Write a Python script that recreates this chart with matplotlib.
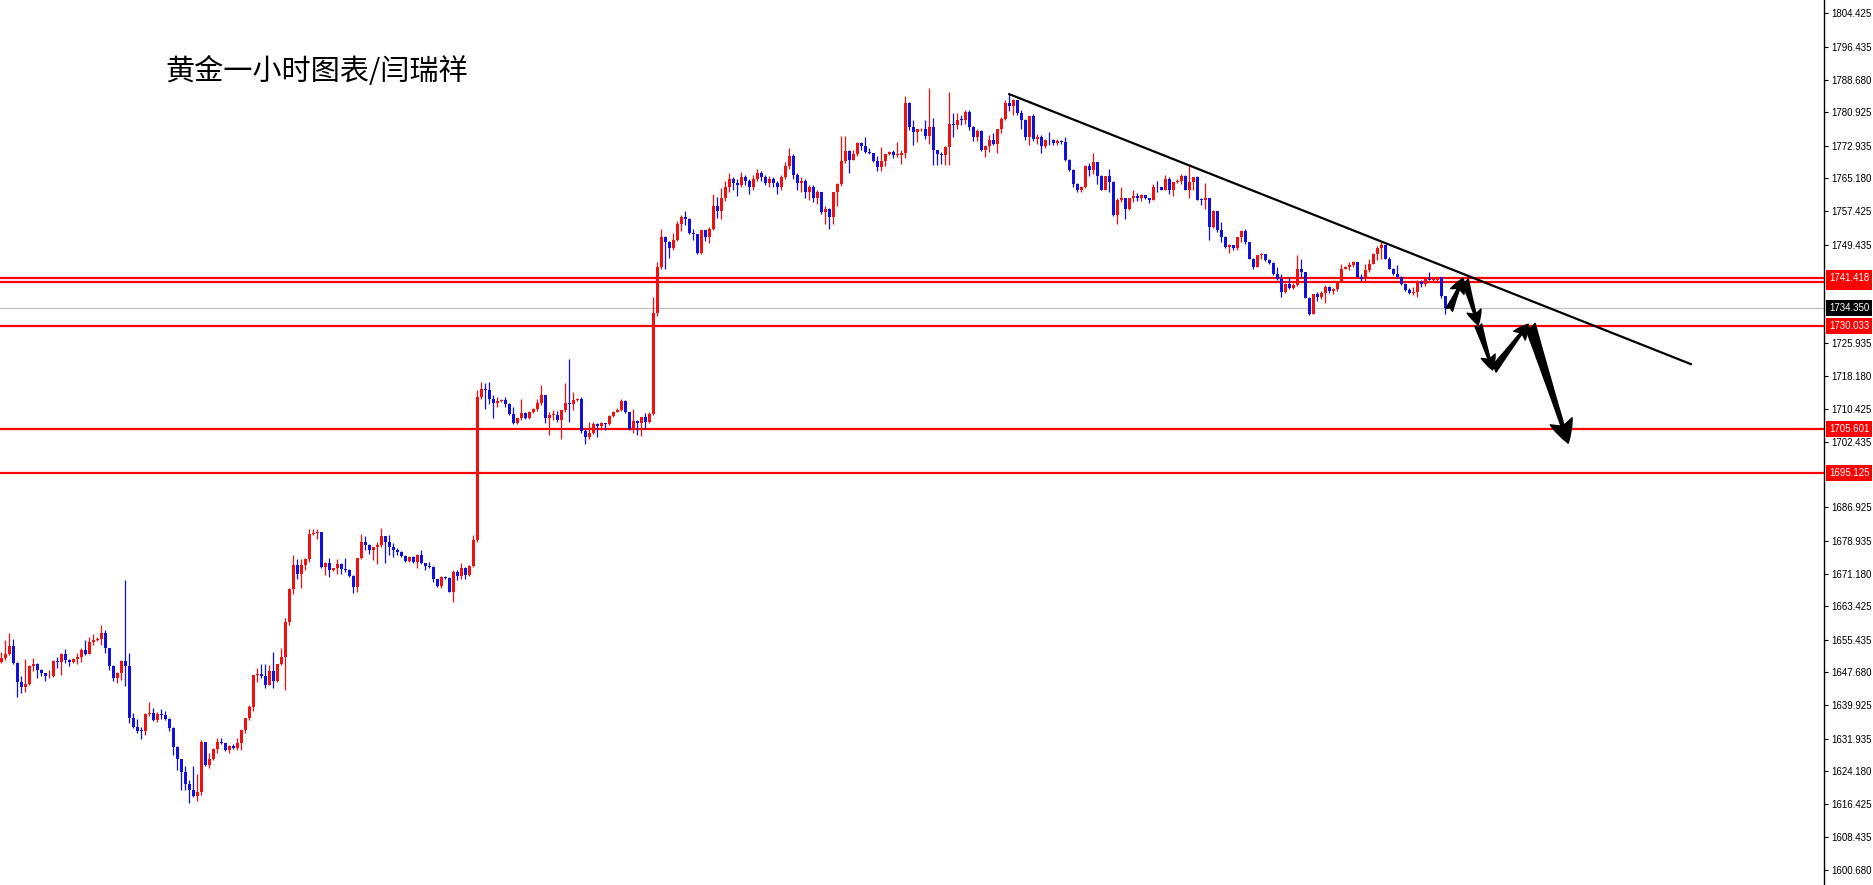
import matplotlib
matplotlib.use("Agg")
import matplotlib.pyplot as plt
import matplotlib.transforms as mtransforms
import numpy as np

plt.rcParams['font.family'] = ['Liberation Sans', 'Noto Sans CJK SC', 'DejaVu Sans']

# hourly gold candles, open = previous close
first_open = 1650.2
closes = [
    1651.0, 1652.0, 1654.0, 1649.9, 1645.3, 1644.3, 1644.9, 1649.2, 1649.7, 1648.3,
    1647.5, 1646.7, 1646.8, 1650.4, 1650.1, 1652.0, 1650.6, 1650.1, 1650.9, 1651.4,
    1652.9, 1652.1, 1654.8, 1655.4, 1655.6, 1657.1, 1653.4, 1649.2, 1646.3, 1647.5,
    1650.4, 1649.2, 1636.8, 1634.8, 1633.8, 1633.7, 1637.8, 1637.9, 1636.4, 1637.8,
    1637.6, 1636.5, 1634.4, 1630.0, 1627.0, 1623.9, 1621.2, 1619.6, 1618.2, 1619.2,
    1631.2, 1625.7, 1627.0, 1629.4, 1631.2, 1630.8, 1629.2, 1630.2, 1629.7, 1630.8,
    1634.0, 1636.8, 1639.4, 1647.1, 1647.4, 1646.7, 1644.7, 1647.9, 1645.7, 1649.7,
    1651.3, 1659.7, 1667.4, 1673.2, 1671.1, 1673.2, 1674.6, 1680.6, 1680.9, 1681.0,
    1672.8, 1673.8, 1672.0, 1672.4, 1673.4, 1672.2, 1672.0, 1670.6, 1667.9, 1674.8,
    1678.8, 1678.0, 1676.9, 1677.4, 1678.0, 1680.0, 1678.8, 1677.6, 1676.8, 1676.4,
    1675.4, 1674.2, 1675.2, 1674.0, 1675.6, 1673.6, 1673.0, 1672.8, 1669.8, 1668.2,
    1670.4, 1670.2, 1666.9, 1671.6, 1670.6, 1672.4, 1670.8, 1673.0, 1679.2, 1713.1,
    1715.0, 1714.8, 1712.8, 1711.7, 1712.3, 1712.4, 1711.5, 1709.1, 1706.9, 1708.1,
    1709.3, 1708.1, 1709.7, 1710.2, 1711.8, 1713.6, 1708.1, 1708.9, 1708.9, 1707.7,
    1710.1, 1711.8, 1711.5, 1712.4, 1712.8, 1705.2, 1703.7, 1704.5, 1706.7, 1706.3,
    1706.9, 1706.7, 1708.6, 1709.7, 1710.1, 1712.3, 1709.7, 1705.5, 1707.5, 1706.9,
    1708.3, 1707.3, 1709.1, 1733.2, 1744.1, 1751.2, 1750.1, 1748.5, 1750.6, 1754.3,
    1756.0, 1755.6, 1752.2, 1751.9, 1747.4, 1752.8, 1751.2, 1753.2, 1758.5, 1757.5,
    1760.5, 1763.0, 1765.0, 1764.0, 1763.5, 1765.5, 1764.5, 1763.0, 1765.0, 1766.5,
    1765.5, 1764.0, 1765.0, 1764.0, 1763.0, 1765.5, 1768.0, 1770.5, 1766.0, 1764.0,
    1764.5, 1762.0, 1763.0, 1760.5, 1761.9, 1757.2, 1758.0, 1756.0, 1761.9, 1763.9,
    1769.3, 1771.7, 1769.5, 1770.9, 1773.6, 1772.8, 1771.5, 1771.2, 1769.3, 1767.9,
    1769.3, 1770.9, 1771.5, 1770.7, 1770.7, 1771.2, 1783.1, 1777.4, 1776.2, 1776.8,
    1776.8, 1775.2, 1777.4, 1771.8, 1770.9, 1770.7, 1772.6, 1778.2, 1777.8, 1779.1,
    1779.0, 1781.0, 1777.4, 1775.0, 1776.5, 1771.9, 1772.8, 1774.2, 1773.3, 1777.0,
    1779.4, 1783.1, 1782.3, 1783.7, 1780.7, 1779.1, 1774.9, 1779.9, 1774.6, 1775.0,
    1772.8, 1774.4, 1774.2, 1773.6, 1774.1, 1773.8, 1769.6, 1767.2, 1763.9, 1762.5,
    1763.1, 1768.0, 1767.1, 1769.1, 1765.7, 1762.5, 1765.7, 1764.3, 1756.4, 1760.0,
    1760.4, 1758.0, 1760.4, 1760.9, 1760.6, 1761.2, 1760.4, 1760.0, 1763.1, 1763.0,
    1762.5, 1765.1, 1762.3, 1764.3, 1764.6, 1765.7, 1762.5, 1764.3, 1765.4, 1760.1,
    1760.0, 1760.4, 1753.6, 1757.4, 1753.0, 1751.2, 1748.9, 1749.4, 1748.5, 1751.2,
    1752.7, 1750.0, 1746.1, 1744.1, 1746.9, 1747.1, 1745.7, 1745.1, 1742.4, 1741.3,
    1738.2, 1740.1, 1739.2, 1739.8, 1743.5, 1742.8, 1736.8, 1732.9, 1737.6, 1737.0,
    1737.9, 1739.4, 1738.3, 1738.8, 1740.5, 1743.7, 1744.0, 1744.5, 1745.3, 1741.7,
    1741.2, 1743.3, 1744.9, 1747.1, 1748.7, 1749.3, 1746.1, 1743.7, 1742.5, 1741.7,
    1740.1, 1738.7, 1737.8, 1738.2, 1740.5, 1740.0, 1741.3, 1741.1, 1741.1, 1741.6,
    1737.1, 1734.3,
]
highs = [
    1652.6, 1655.4, 1657.0, 1655.5, 1650.2, 1646.7, 1650.8, 1649.4, 1651.0, 1649.9,
    1648.4, 1647.6, 1648.2, 1650.6, 1651.4, 1652.2, 1653.2, 1650.8, 1651.2, 1652.2,
    1653.4, 1655.4, 1656.0, 1656.8, 1656.0, 1658.9, 1657.7, 1653.4, 1649.4, 1647.8,
    1650.6, 1669.6, 1652.2, 1638.1, 1636.5, 1634.8, 1638.0, 1640.7, 1639.1, 1638.2,
    1638.9, 1638.4, 1636.8, 1634.6, 1630.1, 1627.0, 1625.3, 1622.1, 1625.3, 1623.5,
    1631.6, 1631.2, 1628.4, 1629.6, 1632.0, 1632.0, 1631.0, 1630.4, 1630.6, 1632.0,
    1634.0, 1636.8, 1639.9, 1647.1, 1648.7, 1649.7, 1649.7, 1649.4, 1652.6, 1649.7,
    1653.4, 1660.5, 1667.7, 1675.6, 1674.6, 1674.6, 1674.8, 1681.7, 1681.7, 1681.7,
    1681.0, 1674.0, 1674.8, 1672.6, 1674.6, 1673.6, 1674.8, 1672.2, 1670.8, 1674.8,
    1680.6, 1680.1, 1678.2, 1677.6, 1678.8, 1681.9, 1680.2, 1680.3, 1678.5, 1677.2,
    1676.6, 1675.6, 1675.4, 1675.4, 1675.8, 1676.8, 1673.8, 1674.0, 1673.0, 1670.0,
    1670.6, 1670.6, 1670.4, 1672.0, 1672.0, 1673.6, 1672.8, 1673.2, 1680.3, 1714.8,
    1716.8, 1716.6, 1716.8, 1713.6, 1713.2, 1712.7, 1713.2, 1711.8, 1710.9, 1708.2,
    1712.6, 1709.5, 1709.9, 1710.6, 1712.8, 1716.0, 1713.6, 1709.7, 1710.1, 1709.9,
    1710.1, 1716.4, 1722.3, 1714.4, 1713.0, 1713.1, 1705.5, 1707.3, 1707.3, 1706.9,
    1707.3, 1707.1, 1708.8, 1709.9, 1710.6, 1712.6, 1712.4, 1709.7, 1710.2, 1707.7,
    1708.5, 1709.3, 1709.5, 1737.0, 1745.3, 1753.2, 1751.4, 1750.3, 1752.2, 1755.1,
    1756.4, 1757.4, 1755.8, 1753.2, 1752.0, 1753.0, 1753.0, 1753.5, 1761.5, 1760.8,
    1762.8, 1764.5, 1766.5, 1765.5, 1765.0, 1766.8, 1766.0, 1765.0, 1766.0, 1767.5,
    1767.0, 1766.0, 1765.8, 1765.5, 1764.5, 1766.0, 1769.0, 1772.5, 1771.0, 1766.5,
    1765.5, 1765.0, 1763.5, 1763.5, 1762.5, 1761.9, 1758.6, 1758.2, 1762.0, 1764.0,
    1775.2, 1775.2, 1771.9, 1772.0, 1773.8, 1773.9, 1774.9, 1772.5, 1771.0, 1770.4,
    1772.6, 1770.9, 1771.7, 1771.8, 1773.8, 1771.9, 1784.7, 1783.3, 1779.0, 1777.0,
    1777.2, 1779.1, 1786.7, 1779.6, 1772.0, 1771.4, 1772.8, 1785.7, 1780.6, 1780.6,
    1780.2, 1781.4, 1781.5, 1777.6, 1777.0, 1776.7, 1773.0, 1775.4, 1776.0, 1777.0,
    1779.8, 1783.9, 1785.2, 1784.1, 1783.6, 1781.5, 1779.2, 1779.9, 1780.5, 1775.8,
    1775.4, 1774.5, 1776.2, 1774.6, 1774.6, 1774.3, 1774.9, 1769.8, 1767.4, 1764.0,
    1763.3, 1768.3, 1768.8, 1771.2, 1769.1, 1765.9, 1765.8, 1767.5, 1764.5, 1760.4,
    1763.0, 1760.4, 1760.6, 1762.3, 1761.7, 1761.5, 1761.3, 1760.5, 1763.9, 1764.6,
    1763.2, 1765.9, 1765.4, 1764.4, 1764.9, 1766.2, 1765.9, 1768.0, 1765.6, 1765.7,
    1760.4, 1764.1, 1760.5, 1757.6, 1757.5, 1754.8, 1751.4, 1749.6, 1749.4, 1751.3,
    1753.0, 1753.2, 1750.0, 1746.3, 1747.0, 1747.4, 1747.2, 1746.0, 1745.2, 1744.0,
    1742.5, 1740.3, 1741.8, 1740.2, 1746.9, 1746.1, 1742.9, 1736.9, 1737.7, 1738.2,
    1738.5, 1739.8, 1739.6, 1739.2, 1740.7, 1744.9, 1744.4, 1745.3, 1745.5, 1745.3,
    1742.4, 1744.9, 1746.1, 1747.3, 1749.0, 1750.0, 1749.4, 1746.4, 1743.8, 1744.5,
    1742.0, 1740.3, 1739.0, 1739.3, 1740.9, 1740.9, 1741.5, 1742.9, 1741.6, 1741.8,
    1741.7, 1737.2,
]
lows = [
    1649.9, 1650.6, 1651.8, 1649.7, 1641.9, 1642.7, 1642.9, 1644.6, 1647.9, 1646.3,
    1646.7, 1645.7, 1646.3, 1646.5, 1648.7, 1647.1, 1649.9, 1649.2, 1649.8, 1649.7,
    1650.2, 1651.8, 1652.0, 1654.2, 1655.1, 1654.2, 1652.4, 1648.2, 1645.7, 1645.2,
    1645.9, 1644.5, 1635.6, 1634.4, 1633.2, 1631.8, 1632.8, 1637.3, 1636.0, 1635.9,
    1636.6, 1636.4, 1633.8, 1628.1, 1624.5, 1619.7, 1619.7, 1616.6, 1618.0, 1617.0,
    1618.6, 1625.3, 1624.9, 1626.9, 1628.4, 1630.6, 1628.9, 1628.5, 1629.4, 1629.2,
    1629.1, 1633.2, 1636.4, 1638.4, 1645.5, 1646.3, 1643.9, 1644.7, 1643.9, 1645.5,
    1649.4, 1643.5, 1659.0, 1666.3, 1670.0, 1667.7, 1672.0, 1674.0, 1680.4, 1679.5,
    1672.4, 1670.8, 1670.4, 1671.8, 1671.1, 1671.1, 1671.6, 1670.4, 1666.6, 1666.9,
    1674.6, 1676.9, 1675.8, 1674.4, 1673.5, 1677.6, 1673.8, 1675.6, 1675.2, 1675.6,
    1675.1, 1673.9, 1674.0, 1673.6, 1672.4, 1673.4, 1672.0, 1672.4, 1669.2, 1668.0,
    1667.8, 1669.8, 1666.9, 1664.5, 1669.7, 1670.0, 1670.0, 1670.6, 1672.8, 1678.8,
    1712.6, 1710.2, 1711.5, 1708.1, 1710.9, 1711.9, 1710.9, 1708.9, 1706.7, 1706.7,
    1707.8, 1707.9, 1707.9, 1709.4, 1709.8, 1711.2, 1706.9, 1704.1, 1707.7, 1707.3,
    1703.1, 1709.7, 1707.3, 1710.1, 1712.2, 1704.5, 1702.1, 1703.3, 1704.4, 1703.7,
    1705.3, 1705.3, 1706.5, 1708.4, 1709.5, 1709.9, 1709.3, 1705.3, 1704.5, 1704.1,
    1703.9, 1705.5, 1706.9, 1708.9, 1732.4, 1743.7, 1743.7, 1746.3, 1748.2, 1750.3,
    1752.7, 1754.0, 1751.9, 1750.5, 1747.2, 1747.2, 1750.3, 1749.7, 1752.9, 1755.8,
    1755.6, 1759.8, 1762.0, 1762.5, 1761.0, 1763.0, 1763.5, 1761.5, 1762.5, 1764.5,
    1764.5, 1763.5, 1763.0, 1763.0, 1761.5, 1762.5, 1765.0, 1767.5, 1765.0, 1762.5,
    1762.0, 1760.5, 1760.0, 1759.5, 1759.0, 1756.8, 1754.4, 1753.2, 1754.3, 1758.5,
    1763.3, 1768.9, 1766.5, 1769.5, 1770.4, 1771.9, 1771.2, 1770.9, 1769.1, 1767.0,
    1767.0, 1768.0, 1770.7, 1770.1, 1770.3, 1768.5, 1769.9, 1776.6, 1773.0, 1773.8,
    1776.4, 1774.6, 1773.4, 1768.3, 1768.3, 1768.7, 1768.3, 1768.3, 1775.0, 1776.8,
    1777.8, 1778.2, 1776.6, 1774.0, 1774.0, 1771.7, 1770.3, 1771.5, 1773.0, 1771.2,
    1776.0, 1779.0, 1781.2, 1780.2, 1780.2, 1777.0, 1774.4, 1773.0, 1774.0, 1773.4,
    1771.1, 1772.5, 1773.0, 1773.1, 1773.0, 1773.3, 1769.3, 1767.0, 1763.0, 1761.9,
    1761.9, 1762.9, 1765.7, 1766.3, 1763.8, 1762.3, 1762.3, 1762.0, 1756.2, 1754.4,
    1759.6, 1755.6, 1757.7, 1759.6, 1759.8, 1759.8, 1760.2, 1759.3, 1760.0, 1761.9,
    1762.3, 1762.4, 1761.5, 1760.9, 1764.1, 1763.8, 1762.5, 1760.4, 1762.3, 1760.0,
    1758.8, 1758.0, 1750.4, 1753.3, 1752.5, 1750.0, 1748.7, 1747.4, 1748.2, 1748.1,
    1750.0, 1749.6, 1746.0, 1743.7, 1744.0, 1745.9, 1745.5, 1744.8, 1742.1, 1741.0,
    1737.0, 1738.0, 1738.9, 1738.9, 1739.6, 1741.6, 1736.6, 1732.6, 1732.8, 1736.0,
    1736.5, 1735.6, 1737.8, 1737.6, 1738.3, 1740.5, 1743.5, 1743.3, 1744.0, 1741.7,
    1740.7, 1740.7, 1742.8, 1744.7, 1745.8, 1746.1, 1745.9, 1743.5, 1742.1, 1741.5,
    1739.7, 1738.5, 1737.6, 1737.4, 1737.0, 1739.4, 1739.6, 1740.9, 1740.8, 1740.2,
    1736.8, 1733.0,
]

# horizontal levels and right-axis labels
red_levels = [1741.418, 1740.45, 1730.033, 1705.601, 1695.125]
current_price = 1734.350
tick_values = [1804.425, 1796.435, 1788.680, 1780.925, 1772.935, 1765.180, 1757.425,
               1749.435, 1725.935, 1718.180, 1710.425, 1702.435, 1686.925, 1678.935,
               1671.180, 1663.425, 1655.435, 1647.680, 1639.925, 1631.935, 1624.180,
               1616.425, 1608.435, 1600.680]

# trend line (bar index, price) and forecast arrows
trend_x = [252.0, 422.4]
trend_y = [1785.2, 1721.0]
arrows = [
    ((362.0, 1733.9), (365.5, 1741.4), 'small'),
    ((365.9, 1741.0), (369.25, 1730.3), 'small'),
    ((369.25, 1730.3), (372.85, 1719.6), 'small'),
    ((373.0, 1719.6), (381.75, 1730.5), 'small'),
    ((382.2, 1730.3), (391.75, 1702.2), 'big'),
]

title = "黄金一小时图表/闫瑞祥"

RED = '#f01010'
BLUE = '#1010e0'

fig = plt.figure(figsize=(18.73, 8.85), dpi=100)
ax = fig.add_axes([0, 0, 1824 / 1873, 1])

c = np.array(closes)
o = np.concatenate([[first_open], c[:-1]])
h = np.array(highs)
l = np.array(lows)
x = np.arange(len(c))
up = c >= o
colors = np.where(up, RED, BLUE)

ax.vlines(x, l, h, colors=colors, linewidth=0.9, zorder=3)
body_lo = np.minimum(o, c)
body_h = np.maximum(np.abs(c - o), 0.2)
ax.bar(x, body_h, bottom=body_lo, width=0.72, color=colors, linewidth=0, zorder=3)

for lv in red_levels:
    ax.axhline(lv, color='#ff0000', linewidth=1.6, zorder=2)
ax.axhline(current_price, color='#c0c0c0', linewidth=0.9, zorder=1)

ax.plot(trend_x, trend_y, color='black', linewidth=1.6, zorder=4)

for (x0, y0), (x1, y1), kind in arrows:
    if kind == 'big':
        style = 'fancy,head_length=0.75,head_width=0.75,tail_width=0.35'
        ms = 22
    else:
        style = 'fancy,head_length=0.8,head_width=0.8,tail_width=0.4'
        ms = 13
    ax.annotate('', xy=(x1, y1), xytext=(x0, y0),
                arrowprops=dict(arrowstyle=style, mutation_scale=ms, fc='black',
                                ec='black', shrinkA=0, shrinkB=0), zorder=5)

ax.set_xlim(-0.325, 455.7)
ax.set_ylim(1597.11, 1807.59)

for side in ['left', 'top', 'bottom']:
    ax.spines[side].set_visible(False)
ax.spines['right'].set_linewidth(1.0)
ax.set_xticks([])
ax.yaxis.tick_right()
ax.set_yticks(tick_values)
ax.set_yticklabels([f"{v:.3f}" for v in tick_values])
ax.tick_params(axis='y', direction='out', length=3, width=0.8, pad=2,
               labelsize=7, colors='black')

trans = mtransforms.blended_transform_factory(ax.transAxes, ax.transData)
for lv in red_levels[::-1]:
    ax.text(1.0 + 5 / 1824, lv, f"{lv:.3f}", transform=trans, va='center', ha='left',
            fontsize=7, color='white', clip_on=False, zorder=10,
            bbox=dict(boxstyle='square,pad=0.3', fc='#ff0000', ec='none'))
ax.text(1.0 + 5 / 1824, current_price, f"{current_price:.3f}", transform=trans,
        va='center', ha='left', fontsize=7, color='white', clip_on=False, zorder=10,
        bbox=dict(boxstyle='square,pad=0.3', fc='black', ec='none'))

fig.text(165 / 1873, 1 - 72 / 885, title, fontsize=21, va='center', ha='left',
         family=['Noto Sans CJK SC', 'DejaVu Sans'], color='black')

fig.savefig('out.png', dpi=100, facecolor='white')
